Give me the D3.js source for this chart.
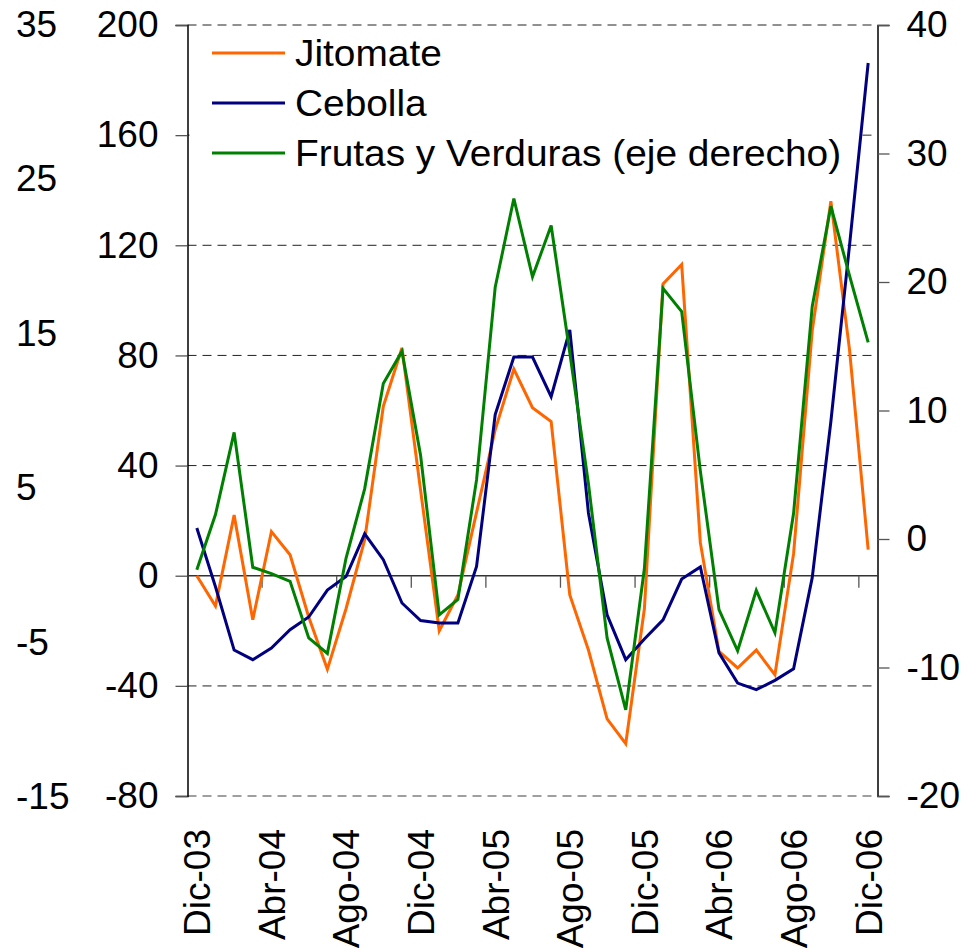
<!DOCTYPE html>
<html>
<head>
<meta charset="utf-8">
<script src="https://cdn.jsdelivr.net/npm/d3@7"></script>
<style>
  body { margin: 0; background: #fff; }
  svg { display: block; font-family: "Liberation Sans", Arial, sans-serif; }
</style>
</head>
<body>
<svg id="chart"></svg>
<script>
// categories (monthly, Dic-03 .. Dic-06)
let categories = ["Dic-03","Ene-04","Feb-04","Mar-04","Abr-04","May-04","Jun-04","Jul-04","Ago-04","Sep-04","Oct-04","Nov-04",
  "Dic-04","Ene-05","Feb-05","Mar-05","Abr-05","May-05","Jun-05","Jul-05","Ago-05","Sep-05","Oct-05","Nov-05",
  "Dic-05","Ene-06","Feb-06","Mar-06","Abr-06","May-06","Jun-06","Jul-06","Ago-06","Sep-06","Oct-06","Nov-06","Dic-06"]

// series values
let jitomate = [0, -11, 22, -16, 16, 7.6, -15, -34, -12, 13, 61.5, 82.7, 31, -20, -7, 23, 53, 75, 61, 56, -7, -27, -52, -61,
  -12, 106, 113, 12, -27.5, -33.5, -27, -36, 8, 89, 136, 82, 9.5]
let cebolla = [17.3, -4, -27, -30.5, -26.3, -19.6, -15, -5.2, -0.3, 15.2, 5.8, -9.9, -16.3, -17.2, -17.2, 3.4, 58.5, 79.4, 79.4, 65, 89.3, 22.8, -14.2, -30.5,
  -23, -16, -1.2, 3.2, -28, -39, -41.4, -38, -33.8, -0.7, 56, 120, 186.2]
// eje derecho
let frutas = [-2.4, 1.9, 8.3, -2.2, -2.7, -3.3, -7.7, -8.9, -1.5, 3.9, 12.1, 14.6, 6.5, -5.9, -4.7, 4.6, 19.6, 26.5, 20.4, 24.4, 14.5, 4.3, -7.7, -13.3,
  -2.3, 19.5, 17.7, 5.3, -5.5, -8.7, -4.0, -7.3, 2.0, 18.1, 25.9, 20.5, 15.3]

// tick labels
let leftTicks = [-80, -40, 0, 40, 80, 120, 160, 200]
let rightTicks = [-20, -10, 0, 10, 20, 30, 40]
let outerTicks = [-15, -5, 5, 15, 25, 35]
let xLabels = ["Dic-03","Abr-04","Ago-04","Dic-04","Abr-05","Ago-05","Dic-05","Abr-06","Ago-06","Dic-06"]

let series = [
  {name: "Jitomate", values: jitomate, color: "#FF6600", axis: "left"},
  {name: "Cebolla", values: cebolla, color: "#000080", axis: "left"},
  {name: "Frutas y Verduras (eje derecho)", values: frutas, color: "#008000", axis: "right"}
]

let width = 979
let height = 951
let plotLeft = 187.5
let plotRight = 877.5
let plotTop = 25
let plotBottom = 796
let fontSize = 37

let svg = d3.select("#chart").attr("width", width).attr("height", height)

let xScale = d3.scaleBand().domain(categories).range([plotLeft, plotRight]).padding(0)
let yLeft = d3.scaleLinear().domain([-80, 200]).range([plotBottom, plotTop])
let yRight = d3.scaleLinear().domain([-20, 40]).range([plotBottom, plotTop])
let yOuter = d3.scaleLinear().domain([-15, 35]).range([plotBottom, plotTop - 1])

let cx = (c) => xScale(c) + xScale.bandwidth() / 2

// gridlines (dashed)
svg.append("g")
   .selectAll("line")
   .data(leftTicks.filter(d => d !== 0))
   .enter()
   .append("line")
   .attr("x1", plotLeft)
   .attr("x2", plotRight)
   .attr("y1", d => yLeft(d))
   .attr("y2", d => yLeft(d))
   .attr("stroke", d => d < 0 ? "#808080" : "#222")
   .attr("stroke-width", d => d < 0 ? 1.6 : 1)
   .attr("stroke-dasharray", "9,6")

// legend background hides the gridline behind it
svg.append("rect")
   .attr("x", plotLeft + 2)
   .attr("y", plotTop + 3)
   .attr("width", 669)
   .attr("height", 162)
   .attr("fill", "#fff")

// plain hyphen for negatives, like the original
let fmt = d => String(d)

// left axis
let yAxisL = d3.axisLeft(yLeft).tickValues(leftTicks).tickSize(12).tickPadding(17).tickFormat(fmt)
let gL = svg.append("g").attr("transform", "translate(" + plotLeft + ",0)").call(yAxisL)

// right axis
let yAxisR = d3.axisRight(yRight).tickValues(rightTicks).tickSize(12).tickPadding(17).tickFormat(fmt)
let gR = svg.append("g").attr("transform", "translate(" + plotRight + ",0)").call(yAxisR)

;[gL, gR].forEach(g => {
  g.select(".domain").attr("stroke", "#000").attr("stroke-width", 1.5)
  g.selectAll(".tick line").attr("stroke", "#555").attr("stroke-width", 1.3)
  g.selectAll("text").attr("font-size", fontSize).attr("font-family", "Liberation Sans, Arial, sans-serif").attr("fill", "#000")
})

// outer (unlabelled) scale on the far left
svg.append("g")
   .selectAll("text")
   .data(outerTicks)
   .enter()
   .append("text")
   .attr("x", 16)
   .attr("y", d => yOuter(d))
   .attr("dy", "0.35em")
   .attr("font-size", fontSize)
   .text(fmt)

// category axis at zero
let y0 = yLeft(0)
svg.append("line")
   .attr("x1", plotLeft).attr("x2", plotRight)
   .attr("y1", y0).attr("y2", y0)
   .attr("stroke", "#333").attr("stroke-width", 1.5)

let tickIdx = d3.range(4, categories.length, 4)
svg.append("g")
   .selectAll("line")
   .data(tickIdx)
   .enter()
   .append("line")
   .attr("x1", i => xScale(categories[i]))
   .attr("x2", i => xScale(categories[i]))
   .attr("y1", y0)
   .attr("y2", y0 + 12)
   .attr("stroke", "#555")
   .attr("stroke-width", 1.3)

// x labels, rotated
svg.append("g")
   .selectAll("text")
   .data(xLabels)
   .enter()
   .append("text")
   .attr("transform", d => "translate(" + cx(d) + "," + 829 + ") rotate(-90)")
   .attr("text-anchor", "end")
   .attr("dy", "0.36em")
   .attr("font-size", fontSize)
   .text(d => d)

// lines
series.forEach(s => {
  let yS = s.axis === "left" ? yLeft : yRight
  let line = d3.line()
               .x((d, i) => cx(categories[i]))
               .y(d => yS(d))
  svg.append("path")
     .datum(s.values)
     .attr("d", line)
     .attr("fill", "none")
     .attr("stroke", s.color)
     .attr("stroke-width", 3)
     .attr("stroke-linejoin", "miter")
})

// legend (text a bit wider, as in the original)
let legend = svg.append("g")
series.forEach((s, i) => {
  let ly = 53 + i * 50
  legend.append("line")
        .attr("x1", 212).attr("x2", 285)
        .attr("y1", ly).attr("y2", ly)
        .attr("stroke", s.color)
        .attr("stroke-width", 3)
  legend.append("text")
        .attr("transform", "translate(295," + ly + ") scale(1.05,1)")
        .attr("dy", "0.35em")
        .attr("font-size", fontSize)
        .text(s.name)
})
</script>
</body>
</html>
